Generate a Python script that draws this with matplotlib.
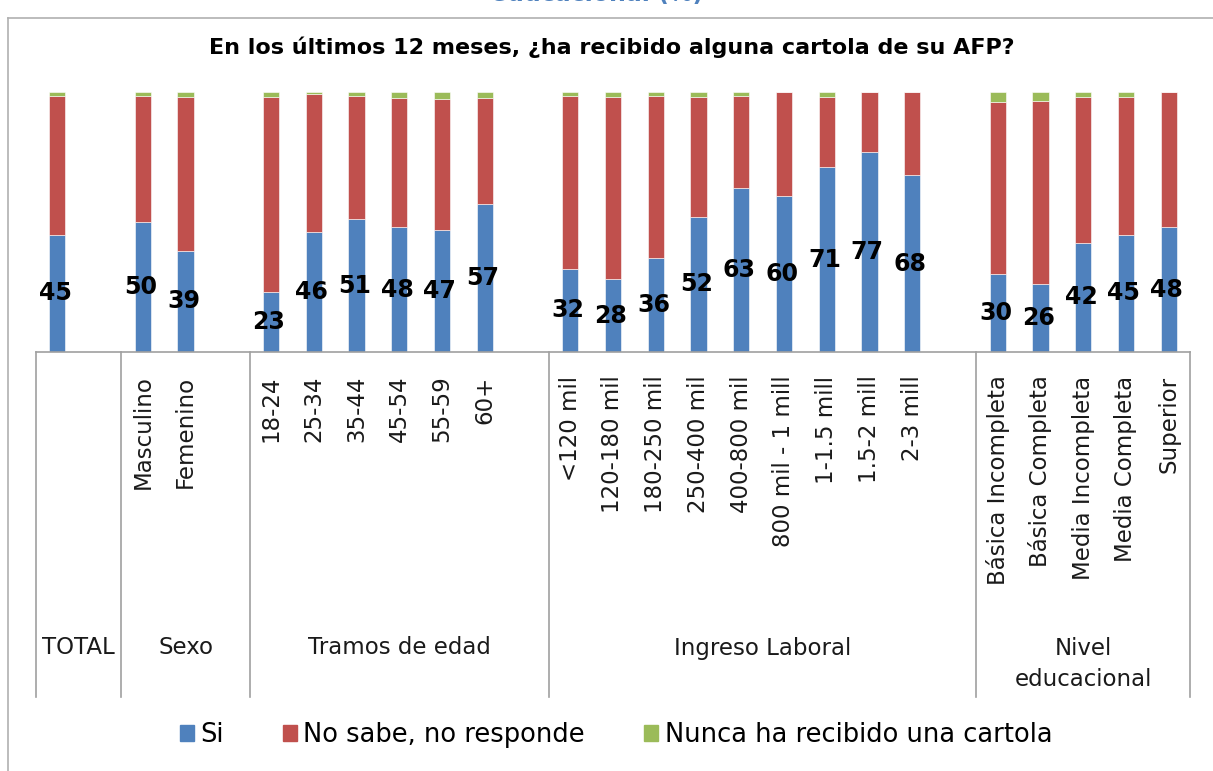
import numpy as np
import matplotlib
matplotlib.use("Agg")
import matplotlib.pyplot as plt
import matplotlib.transforms as mtransforms
from matplotlib.patches import Patch
from matplotlib.lines import Line2D

plt.rcParams['font.family'] = ['DejaVu Sans']

categorias = ['', '',
              'Masculino', 'Femenino', '',
              '18-24', '25-34', '35-44', '45-54', '55-59', '60+', '',
              '<120 mil', '120-180 mil', '180-250 mil', '250-400 mil', '400-800 mil',
              '800 mil - 1 mill', '1-1.5 mill', '1.5-2 mill', '2-3 mill', '',
              'Básica Incompleta', 'Básica Completa', 'Media Incompleta',
              'Media Completa', 'Superior']
si = [45, None,
      50, 39, None,
      23, 46, 51, 48, 47, 57, None,
      32, 28, 36, 52, 63, 60, 71, 77, 68, None,
      30, 26, 42, 45, 48]
nunca = [1.5, None,
         1.4, 1.9, None,
         1.9, 0.8, 1.4, 2.3, 2.6, 2.3, None,
         1.5, 1.9, 1.5, 1.9, 1.4, 0.0, 1.9, 0.0, 0.0, None,
         3.9, 3.3, 1.8, 1.8, 0.0]
grupos = ['TOTAL', 'Sexo', 'Tramos de edad', 'Ingreso Laboral', 'Nivel\neducacional']
limites = [-0.5, 1.5, 4.5, 11.5, 21.5, 26.5]

c_si, c_ns, c_nu = '#4F81BD', '#C0504D', '#9BBB59'

idx = [i for i, v in enumerate(si) if v is not None]
x = np.array(idx)
v_si = np.array([si[i] for i in idx], dtype=float)
v_nu = np.array([nunca[i] for i in idx], dtype=float)
v_ns = 100 - v_si - v_nu

fig = plt.figure(figsize=(12.13, 7.71), dpi=100)
W, H = 1213, 771
ax = fig.add_axes([36 / W, 1 - 352 / H, (1190 - 36) / W, 260 / H])

w = 0.38
ax.bar(x, v_si, w, color=c_si, edgecolor='white', linewidth=0.4)
ax.bar(x, v_ns, w, bottom=v_si, color=c_ns, edgecolor='white', linewidth=0.4)
ax.bar(x, v_nu, w, bottom=v_si + v_ns, color=c_nu, edgecolor='white', linewidth=0.4)

for xi, v in zip(x, v_si):
    ax.text(xi - 0.05, v / 2, f'{v:.0f}', ha='center', va='center', fontsize=17,
            fontweight='bold', color='black')

ax.set_xlim(-0.5, 26.5)
ax.set_ylim(0, 100)
for s in ['top', 'right', 'left']:
    ax.spines[s].set_visible(False)
ax.spines['bottom'].set_color('#A0A0A0')
ax.spines['bottom'].set_linewidth(1.2)
ax.set_yticks([])
ax.set_xticks(x)
ax.set_xticklabels([categorias[i] for i in idx], rotation=90, fontsize=16.5,
                   va='top', ha='center', color='#1a1a1a')
ax.tick_params(axis='x', length=0, pad=17)

trans = mtransforms.blended_transform_factory(ax.transData, ax.transAxes)
y_low = (352 - 697) / 260
for b in limites:
    ax.add_line(Line2D([b, b], [0, y_low], transform=trans, color='#A0A0A0',
                       linewidth=1.2, clip_on=False))
for g, a, b in zip(grupos, limites[:-1], limites[1:]):
    ya = (352 - 648) / 260 if '\n' not in g else (352 - 664) / 260
    ax.text((a + b) / 2, ya, g, transform=trans,
            ha='center', va='center', fontsize=16.5, color='#1a1a1a', linespacing=1.4)

fig.text(612 / W, 1 - 47 / H, 'En los últimos 12 meses, ¿ha recibido alguna cartola de su AFP?',
         ha='center', va='center', fontsize=16, fontweight='bold')
fig.text(597 / W, 1 - 1.5 / H, 'educacional (%)', ha='center', va='baseline',
         fontsize=17, fontweight='bold', color='#4F81BD')

# marco exterior
fig.add_artist(Line2D([8 / W, 8 / W], [0, 1 - 18 / H], transform=fig.transFigure,
                      color='#B0B0B0', linewidth=1.2))
fig.add_artist(Line2D([8 / W, 1], [1 - 18 / H, 1 - 18 / H], transform=fig.transFigure,
                      color='#B0B0B0', linewidth=1.2))

handles = [Patch(color=c_si, label='Si'),
           Patch(color=c_ns, label='No sabe, no responde'),
           Patch(color=c_nu, label='Nunca ha recibido una cartola')]
fig.legend(handles=handles, loc='center', bbox_to_anchor=(616 / W, 1 - 735 / H),
           ncol=3, frameon=False, fontsize=18.5, handlelength=0.55, handleheight=0.55,
           handletextpad=0.25, columnspacing=2.3)

fig.savefig('out.png', dpi=100)
